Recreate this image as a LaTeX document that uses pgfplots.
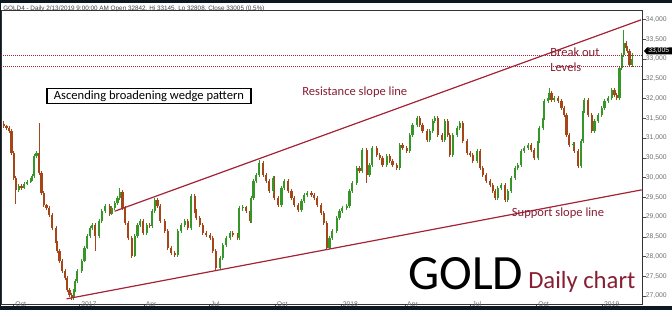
\documentclass[border=0pt]{standalone}
\usepackage{graphicx}
\usepackage{pgfplots}
\pgfplotsset{compat=1.18}
\usepackage{pgfplotstable}
\usepackage{fontspec}
\setmainfont{Carlito}
\newfontfamily\tickfont{Liberation Sans}
\definecolor{upc}{RGB}{55,150,40}
\definecolor{dnc}{RGB}{165,70,25}
\definecolor{wline}{RGB}{165,35,55}
\definecolor{wtext}{RGB}{135,30,50}
\definecolor{darkbar}{RGB}{12,24,34}
\definecolor{tickgray}{RGB}{110,110,110}

\pgfplotstableread{
d o h l c
-106 31360 31420 31260 31308
-102 31308 31340 31210 31258
-98 31258 31300 31130 31182
-95 31182 31220 30580 30625
-92 30625 30660 29950 29992
-89 29992 30040 29333 29688
-85 29688 29840 29640 29789
-81 29789 29830 29690 29738
-77 29738 29890 29700 29840
-73 29840 29940 29800 29890
-68 29890 29990 29850 29941
-66 29941 30090 29900 30042
-63 30042 30600 30000 30549
-60 30549 30680 30500 30625
-56 30625 31384 30070 30118
-53 30118 30160 29560 29612
-50 29612 29650 29260 29308
-46 29308 29340 29180 29232
-42 29232 29280 29000 29055
-38 29055 29100 28680 28726
-33 28726 28770 28300 28346
-31 28346 28390 28100 28143
-28 28143 28190 27840 27890
-24 27890 27930 27590 27637
-20 27637 27680 27410 27460
-17 27460 27500 27100 27156
-14 27156 27200 26980 27029
-11 27029 27080 26903 26953
-8 26953 27180 26910 27131
-6 27131 27430 27090 27384
-3 27384 27680 27340 27637
3 27637 27940 27590 27890
7 27890 28260 27850 28219
11 28219 28570 28180 28523
15 28523 28770 28480 28726
18 28726 28850 28680 28802
22 28802 28850 28143 28523
27 28523 28950 28480 28903
31 28903 29200 28860 29156
36 29156 29330 29110 29283
42 29283 29320 29030 29080
45 29080 29280 29040 29232
49 29232 29400 29190 29359
53 29359 29530 29310 29485
56 29485 29740 29440 29637
60 29637 29680 29190 29232
64 29232 29270 28800 28852
68 28852 28900 28420 28472
73 28472 28510 27966 28017
77 28017 28570 27980 28523
81 28523 28850 28480 28802
85 28802 28950 28760 28903
89 28903 28940 28550 28599
94 28599 28850 28550 28802
98 28802 28850 28730 28776
101 28776 29200 28730 29156
105 29156 29480 29110 29435
109 29435 29480 29240 29283
113 29283 29320 28850 28903
119 28903 28950 28600 28650
123 28650 28700 28170 28219
128 28219 28260 28040 28093
133 28093 28140 27990 28042
137 28042 28700 28000 28650
142 28650 28850 28600 28802
147 28802 28950 28760 28903
151 28903 28950 28680 28726
156 28726 29590 28680 29536
161 29536 29580 29110 29156
163 29156 29200 28930 28979
168 28979 29020 28750 28802
172 28802 28850 28550 28599
177 28599 28640 28500 28548
182 28548 28590 28420 28472
186 28472 28510 28100 28143
190 28143 28190 27662 27713
196 27713 28010 27680 27966
200 27966 28340 27920 28295
205 28295 28520 28250 28472
210 28472 28640 28430 28599
214 28599 28640 28500 28548
221 28548 28590 28430 28472
223 28472 29280 28430 29232
228 29232 29300 29150 29250
233 29250 29290 29110 29156
238 29156 29200 28850 28903
240 28903 29530 28860 29485
243 29485 29960 29440 29916
247 29916 30110 29870 30068
251 30068 30447 30020 30371
256 30371 30410 30020 30068
261 30068 30110 29870 29916
265 29916 29960 29610 29662
270 29662 30040 29620 29992
272 29992 30030 29440 29485
277 29485 29530 29260 29308
282 29308 29780 29260 29738
286 29738 29960 29690 29916
291 29916 29960 29610 29662
296 29662 29710 29440 29485
300 29485 29530 29260 29308
305 29308 29350 29130 29181
310 29181 29460 29130 29409
314 29409 29610 29360 29561
318 29561 29660 29510 29612
324 29612 29660 29510 29561
328 29561 29610 29440 29485
332 29485 29530 29260 29308
337 29308 29350 29060 29105
341 29105 29150 28800 28852
345 28852 28900 28169 28219
349 28219 28520 28180 28472
353 28472 28700 28430 28650
359 28650 29020 28600 28979
363 28979 29200 28930 29156
367 29156 29280 29110 29232
373 29232 29330 29190 29283
377 29283 29710 29240 29662
381 29662 29910 29610 29865
387 29865 30290 29820 30245
391 30245 30290 30120 30169
395 30169 30750 30120 30700
401 30700 30740 29865 30068
405 30068 30370 30020 30321
409 30321 30800 30270 30751
415 30751 30800 30530 30574
419 30574 30620 30450 30498
423 30498 30540 30270 30321
429 30321 30600 30270 30549
433 30549 30600 30370 30422
437 30422 30470 30270 30321
443 30321 30370 30200 30245
447 30245 30870 30200 30827
451 30827 30870 30700 30751
457 30751 30800 30630 30675
461 30675 31130 30630 31080
465 31080 31380 31030 31334
471 31334 31560 31290 31511
475 31511 31560 31290 31334
479 31334 31380 31130 31182
485 31182 31230 30900 30954
489 30954 31230 30900 31182
493 31182 31480 31130 31435
496 31435 31560 31390 31511
500 31511 31560 31030 31080
506 31080 31130 30900 30954
510 30954 31480 30900 31435
514 31435 31480 31030 31080
517 31080 31130 30530 30574
521 30574 31130 30530 31080
527 31080 31300 31030 31258
531 31258 31430 31210 31384
535 31384 31430 30880 30928
541 30928 30970 30580 30625
545 30625 30670 30530 30574
549 30574 30620 30370 30422
555 30422 30720 30370 30675
559 30675 30720 30200 30245
563 30245 30290 30020 30068
568 30068 30110 29870 29916
573 29916 29960 29770 29814
577 29814 29860 29610 29662
580 29662 29710 29440 29485
584 29485 29780 29440 29738
589 29738 29860 29690 29814
594 29814 29860 29390 29435
598 29435 29710 29390 29662
603 29662 30040 29610 29992
608 29992 30290 29950 30245
612 30245 30370 30200 30321
617 30321 30720 30270 30675
621 30675 30800 30630 30751
626 30751 30870 30700 30827
631 30827 30870 30650 30700
635 30700 30750 30450 30498
640 30498 30970 30450 30928
642 30928 31300 30880 31258
647 31258 31560 31210 31511
649 31511 31990 31460 31941
654 31941 32070 31890 32017
656 32017 32270 31970 32144
659 32144 32190 31920 31967
663 31967 32070 31920 32017
668 32017 32070 31890 31941
673 31941 31990 31710 31764
677 31764 31810 31540 31587
680 31587 31630 31030 31080
684 31080 31130 30780 30827
689 30827 30910 30780 30860
691 30860 30900 30630 30675
696 30675 30720 30245 30295
700 30295 30970 30250 30928
703 30928 31740 30880 31688
705 31688 32020 31640 31967
710 31967 32010 31540 31587
715 31587 31630 31130 31182
719 31182 31480 31130 31435
724 31435 31630 31390 31587
729 31587 31810 31540 31764
733 31764 31990 31710 31941
738 31941 32070 31890 32017
743 32017 32270 31970 32220
747 32220 32270 32040 32093
750 32093 32140 31970 32017
754 32017 32830 31970 32777
757 32777 33160 32730 33106
760 33106 33739 33060 33410
763 33410 33450 33230 33283
765 33283 33330 33160 33207
768 33207 33250 32800 32850
772 32842 33145 32808 33005
}\gold

\begin{document}
\begin{tikzpicture}[x=0.75pt,y=0.75pt]
\useasboundingbox (0,0) rectangle (672,310);
\clip (0,0) rectangle (672,310);
\fill[white] (0,0) rectangle (672,310);
\begin{axis}[
  at={(2,13)}, anchor=south west,
  scale only axis, width=480.75pt, height=220.5pt,
  xmin=-109, xmax=786, ymin=26776, ymax=34220,
  axis line style={draw=black!80, line width=0.6pt},
  xtick={-92,0,90,181,273,365,455,546,638,730},
  xticklabels={Oct,2017,Apr,Jul,Oct,2018,Apr,Jul,Oct,2019},
  ytick={27000,27500,...,34000},
  xtick pos=left, ytick pos=right, yticklabel pos=right,
  tick align=outside, major tick length=2.4pt,
  tick style={black!70, line width=0.4pt},
  scaled y ticks=false,
  /pgf/number format/.cd, 1000 sep={,}, assume math mode=true,
  /pgfplots/.cd,
  xticklabel style={font=\tickfont\fontsize{5.1}{6}\selectfont, text=tickgray, anchor=north west, inner sep=0pt, xshift=1.2pt, yshift=4.9pt},
  yticklabel style={font=\tickfont\fontsize{5.1}{6}\selectfont, text=tickgray, anchor=west, inner sep=0pt},
]
% down candles: wicks then bodies
\addplot[draw=none, mark=none, forget plot, restrict expr to domain={\thisrow{c}-\thisrow{o}}{-100000:-0.5},
  error bars/.cd, y dir=both, y explicit, error mark=none, error bar style={line width=0.5pt, draw=dnc}]
  table[x=d, y=c, y error plus expr=\thisrow{h}-\thisrow{c}, y error minus expr=\thisrow{c}-\thisrow{l}] {\gold};
\addplot[draw=none, mark=none, forget plot, restrict expr to domain={\thisrow{c}-\thisrow{o}}{-100000:-0.5},
  error bars/.cd, y dir=both, y explicit, error mark=none, error bar style={line width=1.6pt, draw=dnc}]
  table[x=d, y=c, y error plus expr=\thisrow{o}-\thisrow{c}, y error minus expr=0] {\gold};
% up candles
\addplot[draw=none, mark=none, forget plot, restrict expr to domain={\thisrow{c}-\thisrow{o}}{0:100000},
  error bars/.cd, y dir=both, y explicit, error mark=none, error bar style={line width=0.5pt, draw=upc}]
  table[x=d, y=c, y error plus expr=\thisrow{h}-\thisrow{c}, y error minus expr=\thisrow{c}-\thisrow{l}] {\gold};
\addplot[draw=none, mark=none, forget plot, restrict expr to domain={\thisrow{c}-\thisrow{o}}{0:100000},
  error bars/.cd, y dir=both, y explicit, error mark=none, error bar style={line width=1.6pt, draw=upc}]
  table[x=d, y=c, y error plus expr=0, y error minus expr=\thisrow{c}-\thisrow{o}] {\gold};
% wedge lines
\addplot[wline, line width=0.9pt] coordinates {(49,29146) (784,33992)};
\addplot[wline, line width=0.9pt] coordinates {(-18,26928) (785,29688)};
% break out levels
\addplot[wline, densely dotted, line width=0.5pt] coordinates {(-109,33100) (786,33100)};
\addplot[wline, densely dotted, line width=0.5pt] coordinates {(-109,32820) (786,32820)};
\end{axis}
% frame bars
\fill[darkbar] (0,307) rectangle (672,310);
\fill[darkbar] (0,0) rectangle (672,3.5);
\fill[darkbar] (0,0) rectangle (1.4,310);
% header
\node[anchor=west, inner sep=0pt, text=black!75] at (3,301) {\resizebox{196pt}{!}{\tickfont GOLD4 - Daily 2/13/2019 9:00:00 AM Open 32842, Hi 33145, Lo 32808, Close 33005 (0.5\%)}};
% price marker
\fill[black] (644,259) -- (647,262.5) -- (676,262.5) -- (676,255.5) -- (647,255.5) -- cycle;
\node[anchor=west, inner sep=0pt, text=white, font=\tickfont\fontsize{5.1}{6}\selectfont] at (648,259) {33,005};
% annotations
\node[draw=black, line width=1pt, minimum width=153pt, minimum height=11.25pt, inner sep=0pt, font=\fontsize{9.4}{11}\selectfont] at (149,214) {Ascending broadening wedge pattern};
\node[anchor=base west, inner sep=0pt, text=wtext, font=\fontsize{9.4}{11}\selectfont] at (302,214) {Resistance slope line};
\node[anchor=base west, inner sep=0pt, text=wtext, font=\fontsize{9.4}{11}\selectfont] at (550,253.3) {Break out};
\node[anchor=base west, inner sep=0pt, text=wtext, font=\fontsize{9.4}{11}\selectfont] at (550,238) {Levels};
\node[anchor=base west, inner sep=0pt, text=wtext, font=\fontsize{9.4}{11}\selectfont] at (511.7,93.3) {Support slope line};
\node[anchor=base west, inner sep=0pt, text=black, font=\fontsize{37}{40}\selectfont] at (408,20) {GOLD};
\node[anchor=base west, inner sep=0pt, text=wtext, font=\fontsize{18.5}{20}\selectfont] at (528,21) {Daily chart};
\end{tikzpicture}
\end{document}
